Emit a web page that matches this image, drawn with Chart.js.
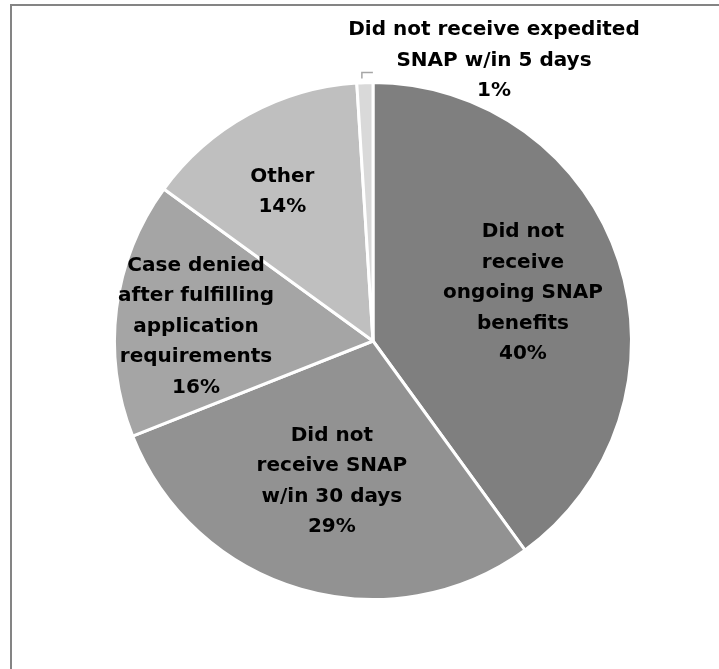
<!DOCTYPE html>
<html>
<head>
<meta charset="utf-8">
<script src="https://cdn.jsdelivr.net/npm/chart.js@4.4.1/dist/chart.umd.min.js"></script>
<style>
  html, body { margin: 0; padding: 0; background: #fff; overflow: hidden; }
  #frame {
    position: absolute; left: 10px; top: 4px;
    width: 900px; height: 900px;
    border: 2px solid #848484;
  }
  #wrap { position: absolute; left: 0; top: 0; width: 719px; height: 669px; }
</style>
</head>
<body>
<div id="frame"></div>
<div id="wrap"><canvas id="pieChart"></canvas></div>
<script>
// slices, clockwise from 12 o'clock
const labels = [
    ['Did not', 'receive', 'ongoing SNAP', 'benefits'],
    ['Did not', 'receive SNAP', 'w/in 30 days'],
    ['Case denied', 'after fulfilling', 'application', 'requirements'],
    ['Other'],
    ['Did not receive expedited', 'SNAP w/in 5 days']
];
const shares = [40, 29, 16, 14, 1];
const colors = ['#7f7f7f', '#929292', '#a5a5a5', '#bfbfbf', '#d9d9d9'];

// label block placement: fraction of radius along slice middle, then a small nudge
const labelFrac = [0.61, 0.57, 0.69, 0.68, null];
const labelNudge = [[0, 1], [0, -1], [0, 8], [-6, 5], [0, 0]];

const sliceLabels = {
    id: 'sliceLabels',
    afterDatasetsDraw(chart) {
        const ctx = chart.ctx;
        const meta = chart.getDatasetMeta(0);
        const lineH = 30.5;
        ctx.save();
        ctx.font = 'bold 20px "DejaVu Sans"';
        ctx.fillStyle = '#000';
        ctx.textAlign = 'center';
        ctx.textBaseline = 'middle';

        meta.data.forEach((arc, i) => {
            const lines = labels[i].concat(shares[i] + '%');
            const mid = (arc.startAngle + arc.endAngle) / 2;
            let cx, cy;
            if (labelFrac[i] !== null) {
                const r = arc.outerRadius * labelFrac[i];
                cx = arc.x + Math.cos(mid) * r;
                cy = arc.y + Math.sin(mid) * r;
            } else {
                // outside label for the tiny slice, with a leader line
                const top = arc.y - arc.outerRadius;
                const ex = arc.x + Math.cos(mid) * arc.outerRadius - 3;
                cx = arc.x + 121;
                cy = top - 22;
                ctx.strokeStyle = '#a6a6a6';
                ctx.lineWidth = 1.5;
                ctx.beginPath();
                ctx.moveTo(ex, top - 4);
                ctx.lineTo(ex, top - 10);
                ctx.lineTo(ex + 11, top - 10);
                ctx.stroke();
            }
            cx += labelNudge[i][0];
            cy += labelNudge[i][1];
            const y0 = cy - (lines.length - 1) * lineH / 2;
            lines.forEach((t, k) => ctx.fillText(t, cx, y0 + k * lineH));
        });
        ctx.restore();
    }
};

new Chart(document.getElementById('pieChart'), {
    type: 'pie',
    data: {
        labels: labels.map(l => l.join(' ')),
        datasets: [{
            data: shares,
            backgroundColor: colors,
            borderColor: '#ffffff',
            borderWidth: 3
        }]
    },
    options: {
        responsive: true,
        maintainAspectRatio: false,
        animation: false,
        layout: { padding: { left: 113, right: 86, top: 81, bottom: 68 } },
        plugins: {
            legend: { display: false },
            tooltip: { enabled: false }
        }
    },
    plugins: [sliceLabels]
});
</script>
</body>
</html>
